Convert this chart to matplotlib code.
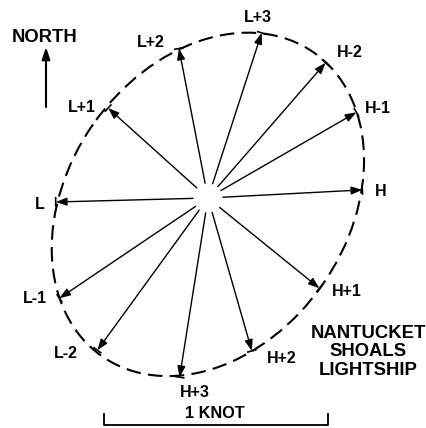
import numpy as np
import matplotlib
matplotlib.use("Agg")
import matplotlib.pyplot as plt
from matplotlib.patches import FancyArrowPatch, Ellipse

# ---- data (tidal current, Nantucket Shoals Lightship) ----
hours = ["H", "H+1", "H+2", "H+3", "L-2", "L-1", "L", "L+1", "L+2", "L+3", "H-2", "H-1"]
direction_deg = [87, 129, 164, 189, 216, 236, 268.5, 312, 349, 18, 41, 60]  # degrees true
speed_kn = [0.69, 0.64, 0.71, 0.81, 0.84, 0.80, 0.68, 0.60, 0.68, 0.775, 0.80, 0.765]
# label offsets in pixels (style)
label_dx = [18, 27, 30, 15, -32, -24, -16, -26, -28, -4, 24, 21]
label_dy = [-2, -3, -8, -15, -3, 0, -3, 1, 6, 15, 10, 4]

plt.rcParams['font.family'] = ['Liberation Sans', 'DejaVu Sans']

W, H = 426, 428
fig = plt.figure(figsize=(W / 100, H / 100), dpi=100)
ax = fig.add_axes([0, 0, 1, 1])
px_per_kn = 224.0
cx, cy = 208, 198
ax.set_xlim((0 - cx) / px_per_kn, (W - cx) / px_per_kn)
ax.set_ylim((cy - H) / px_per_kn, (cy - 0) / px_per_kn)
ax.set_aspect('equal')
ax.axis('off')

th = np.radians(direction_deg)
sp = np.array(speed_kn)
ux, uy = np.sin(th), np.cos(th)
tx, ty = sp * ux, sp * uy

# ellipse fitted through arrow tips (algebraic conic fit)
D = np.column_stack([tx**2, tx*ty, ty**2, tx, ty, np.ones_like(tx)])
_, _, Vt = np.linalg.svd(D)
A, B, C, Dd, E, F = Vt[-1]
M = np.array([[A, B/2], [B/2, C]])
ctr = np.linalg.solve(2*M, [-Dd, -E])
Fc = F + 0.5*(Dd*ctr[0] + E*ctr[1])
evals, evecs = np.linalg.eigh(M)
axes_len = np.sqrt(-Fc / evals)
ang = np.degrees(np.arctan2(evecs[1, 0], evecs[0, 0]))
ell = Ellipse(ctr, 2*axes_len[0], 2*axes_len[1], angle=ang, fill=False,
              lw=1.5, color='black', linestyle=(0, (7, 3.5)))
ax.add_patch(ell)

r0 = 15 / px_per_kn
for i in range(len(hours)):
    arr = FancyArrowPatch((r0*ux[i], r0*uy[i]), (tx[i], ty[i]),
                          arrowstyle='-|>,head_length=0.55,head_width=0.2',
                          mutation_scale=12, lw=1.0, color='black',
                          shrinkA=0, shrinkB=0)
    ax.add_patch(arr)
    # small bar at tip
    h = 5 / px_per_kn
    ax.plot([tx[i] - h*uy[i], tx[i] + h*uy[i]], [ty[i] + h*ux[i], ty[i] - h*ux[i]],
            color='black', lw=1.2, solid_capstyle='butt')
    ax.annotate(hours[i], (tx[i], ty[i]), xytext=(label_dx[i], label_dy[i]),
                textcoords='offset pixels', ha='center', va='center',
                fontsize=11.5, fontweight='bold')

def p2d(px, py):
    return ((px - cx) / px_per_kn, (cy - py) / px_per_kn)

# north arrow
ax.annotate('', xy=p2d(46, 47), xytext=p2d(46, 107),
            arrowprops=dict(arrowstyle='-|>,head_length=0.6,head_width=0.2',
                            mutation_scale=12, lw=1.5, color='black',
                            shrinkA=0, shrinkB=0))
ax.text(*p2d(45, 37), 'NORTH', ha='center', va='center', fontsize=13.3, fontweight='bold')

# scale bar
x0, y0 = p2d(104, 425)
x1, _ = p2d(328, 425)
_, yt = p2d(104, 414)
ax.plot([x0, x0, x1, x1], [yt, y0, y0, yt], color='black', lw=1.3)
ax.text(*p2d(215, 414), '1 KNOT', ha='center', va='center', fontsize=11.7, fontweight='bold')

ax.text(*p2d(368, 352), 'NANTUCKET\nSHOALS\nLIGHTSHIP', ha='center', va='center',
        fontsize=13.3, fontweight='bold', linespacing=1.1)

fig.savefig('out.png', dpi=100)
